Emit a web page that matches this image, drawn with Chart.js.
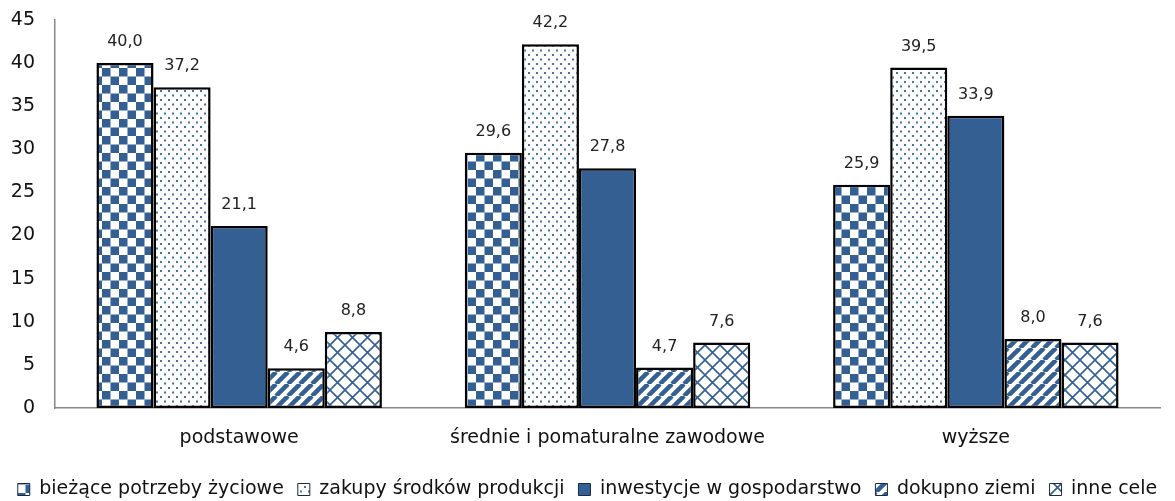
<!DOCTYPE html>
<html>
<head>
<meta charset="utf-8">
<script src="https://cdn.jsdelivr.net/npm/chart.js@4/dist/chart.umd.min.js"></script>
<style>
    body { margin: 0; background: #fff; }
    #wrap { width: 1175px; height: 501px; }
</style>
</head>
<body>
<div id="wrap"><canvas id="chart"></canvas></div>
<script>
// dane
const categories = ['podstawowe', 'średnie i pomaturalne zawodowe', 'wyższe'];
const seriesNames = ['bieżące potrzeby życiowe', 'zakupy środków produkcji', 'inwestycje w gospodarstwo', 'dokupno ziemi', 'inne cele'];
const biezace = [40.0, 29.6, 25.9];
const zakupy = [37.2, 42.2, 39.5];
const inwestycje = [21.1, 27.8, 33.9];
const dokupno = [4.6, 4.7, 8.0];
const inne = [8.8, 7.6, 7.6];
const yTicks = [0, 5, 10, 15, 20, 25, 30, 35, 40, 45];

const BLUE = '#335f92';
const FONT = "'DejaVu Sans', Tahoma, sans-serif";

// wzory wypełnienia
function makePattern(w, h, draw) {
    const c = document.createElement('canvas');
    c.width = w; c.height = h;
    const ctx = c.getContext('2d');
    ctx.fillStyle = '#fff';
    ctx.fillRect(0, 0, w, h);
    draw(ctx, w, h);
    return document.createElement('canvas').getContext('2d').createPattern(c, 'repeat');
}

const checker = makePattern(17, 17, (ctx) => {
    ctx.fillStyle = BLUE;
    ctx.fillRect(0, 0, 8.5, 8.5);
    ctx.fillRect(8.5, 8.5, 8.5, 8.5);
});

const dots = makePattern(8, 9, (ctx) => {
    ctx.fillStyle = '#4a72a0';
    ctx.fillRect(0, 0, 2, 2);
    ctx.fillRect(4, 4.5, 2, 2);
});

const stripes = makePattern(12, 12, (ctx, s) => {
    ctx.strokeStyle = BLUE;
    ctx.lineWidth = 4.5;
    for (let k = -1; k <= 1; k++) {
        ctx.beginPath();
        ctx.moveTo(k * s, s);
        ctx.lineTo(k * s + s, 0);
        ctx.stroke();
    }
});

const lattice = makePattern(15, 15, (ctx, s) => {
    ctx.strokeStyle = BLUE;
    ctx.lineWidth = 1.6;
    ctx.beginPath();
    ctx.moveTo(0, 0); ctx.lineTo(s, s);
    ctx.moveTo(s, 0); ctx.lineTo(0, s);
    ctx.stroke();
});

// etykiety wartości nad słupkami
const valueLabels = {
    id: 'valueLabels',
    afterDatasetsDraw(chart) {
        const ctx = chart.ctx;
        ctx.save();
        ctx.font = '16px ' + FONT;
        ctx.fillStyle = '#222';
        ctx.textAlign = 'center';
        ctx.textBaseline = 'bottom';
        chart.data.datasets.forEach((ds, i) => {
            chart.getDatasetMeta(i).data.forEach((bar, j) => {
                ctx.fillText(ds.data[j].toFixed(1).replace('.', ','), bar.x, bar.y - 13);
            });
        });
        ctx.restore();
    }
};

const fills = [checker, dots, BLUE, stripes, lattice];
const values = [biezace, zakupy, inwestycje, dokupno, inne];

new Chart(document.getElementById('chart'), {
    type: 'bar',
    data: {
        labels: categories,
        datasets: seriesNames.map((name, i) => ({
            label: name,
            data: values[i],
            backgroundColor: fills[i],
            borderColor: '#000',
            borderWidth: 2.5,
            borderSkipped: false,
            barPercentage: 1,
            categoryPercentage: 0.775
        }))
    },
    options: {
        responsive: true,
        maintainAspectRatio: false,
        animation: false,
        layout: { padding: { top: 0, right: 0, left: 0, bottom: -8 } },
        scales: {
            x: {
                grid: { display: false, drawTicks: false },
                border: { color: '#888', width: 1.5 },
                ticks: { color: '#111', font: { family: FONT, size: 19 }, padding: 19 },
                afterFit: (scale) => { scale.height = 58; }
            },
            y: {
                min: 0,
                max: 45,
                afterBuildTicks: (axis) => { axis.ticks = yTicks.map(v => ({ value: v })); },
                grid: { display: false, drawTicks: false },
                border: { color: '#888', width: 1.5 },
                ticks: { color: '#111', font: { family: FONT, size: 19 }, padding: 20 },
                afterFit: (scale) => {
                    scale.width = 55;
                    scale.paddingTop = 20;
                    scale.paddingBottom = 12;
                }
            },
            // pusty margines z prawej strony
            yRight: {
                position: 'right',
                grid: { display: false, drawTicks: false },
                border: { display: false },
                ticks: { display: false },
                afterFit: (scale) => { scale.width = 15; }
            }
        },
        plugins: {
            legend: {
                position: 'bottom',
                labels: {
                    color: '#111',
                    font: { family: FONT, size: 19 },
                    boxWidth: 12,
                    boxHeight: 12,
                    padding: 14,
                    generateLabels: (chart) => chart.data.datasets.map((ds, i) => ({
                        text: ds.label,
                        fillStyle: ds.backgroundColor,
                        strokeStyle: '#1a2a44',
                        lineWidth: 1,
                        fontColor: '#111',
                        datasetIndex: i
                    }))
                }
            },
            tooltip: { enabled: false }
        }
    },
    plugins: [valueLabels]
});
</script>
</body>
</html>
